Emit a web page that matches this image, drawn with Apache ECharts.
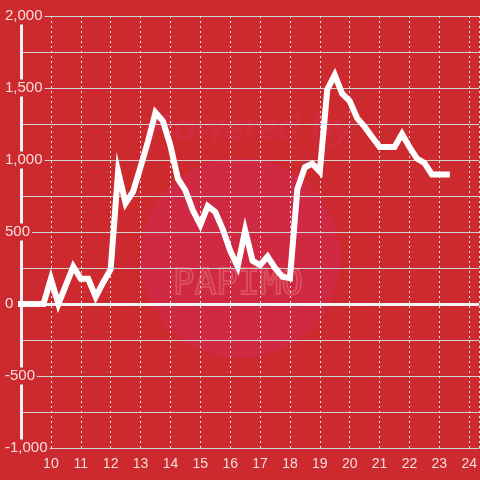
<!DOCTYPE html>
<html>
<head>
<meta charset="utf-8">
<script src="https://cdn.jsdelivr.net/npm/echarts@6/dist/echarts.min.js"></script>
<style>html,body{margin:0;padding:0;background:#cd2a30;}#c{width:480px;height:480px;}</style>
</head>
<body>
<div id="c"></div>
<script>
var hours = [9.00,9.25,9.50,9.75,10.00,10.25,10.50,10.75,11.00,11.25,11.50,11.75,12.00,12.25,12.50,12.75,13.00,13.25,13.50,13.75,14.00,14.25,14.50,14.75,15.00,15.25,15.50,15.75,16.00,16.25,16.50,16.75,17.00,17.25,17.50,17.75,18.00,18.25,18.50,18.75,19.00,19.25,19.50,19.75,20.00,20.25,20.50,20.75,21.00,21.25,21.50,21.75,22.00,22.25,22.50,22.75,23.00,23.25];
var values = [0,0,0,0,175,0,130,260,175,175,50,150,240,920,700,780,950,1130,1330,1270,1100,870,790,650,550,680,640,520,370,260,510,300,270,330,250,190,180,800,950,975,920,1490,1590,1460,1410,1290,1230,1160,1090,1090,1090,1180,1090,1010,980,900,900,900];
var xTicks = [10,11,12,13,14,15,16,17,18,19,20,21,22,23,24];

var chart = echarts.init(document.getElementById('c'));
var labelColor = '#f6dcdc';
chart.setOption({
  backgroundColor: '#cd2a30',
  animation: false,
  graphic: [
    {type:'circle', shape:{cx:240, cy:258, r:100}, style:{fill:'rgba(210,40,90,0.45)'}, z:0, silent:true},
    {type:'text', left:150, top:112, style:{text:'Powered by', font:'italic bold 36px sans-serif', fill:'rgba(215,45,80,0.45)'}, z:0, silent:true},
    {type:'text', left:172, top:266, style:{text:'PAPIMO', font:'36px monospace', fill:'rgba(0,0,0,0)', stroke:'rgba(240,120,130,0.45)', lineWidth:2}, z:0, silent:true}
  ],
  grid: {left:20, right:0, top:16, bottom:32},
  xAxis: {
    type:'value', min:9, max:24.3333, interval:1,
    axisLine:{show:true, onZero:false, lineStyle:{color:'#d0d0d0', width:1}},
    axisTick:{show:false},
    axisLabel:{color:labelColor, fontSize:14, fontFamily:'Liberation Sans', margin:9, showMaxLabel:false,
      formatter:function(v){ return xTicks.indexOf(v) >= 0 ? String(v) : ''; }},
    splitLine:{show:true, lineStyle:{color:'#e8e8e8', width:1, type:[2,3]}}
  },
  yAxis: {
    type:'value', min:-1000, max:2000, interval:500,
    axisLine:{show:true, lineStyle:{color:'#f2f2f2', width:3}},
    axisTick:{show:false},
    axisLabel:{color:labelColor, fontSize:15, fontFamily:'Liberation Sans', align:'left', margin:18,
      backgroundColor:'#cd2a30', padding:[1,2],
      formatter:function(v){ return v.toLocaleString('en-US'); }},
    splitLine:{show:true, lineStyle:{color:'#d0d0d0', width:1}},
    minorTick:{show:false, splitNumber:2},
    minorSplitLine:{show:true, lineStyle:{color:'#d0d0d0', width:1}}
  },
  series: [{
    type:'line',
    data: hours.map(function(h,i){ return [h, values[i]]; }),
    showSymbol:false, symbol:'none', clip:false,
    lineStyle:{color:'#ffffff', width:6, cap:'square', join:'miter'},
    z:5,
    markLine:{
      silent:true, symbol:'none', label:{show:false},
      lineStyle:{color:'#f4f4f4', width:3, type:'solid'},
      data:[{yAxis:0}]
    }
  }]
});
</script>
</body>
</html>
